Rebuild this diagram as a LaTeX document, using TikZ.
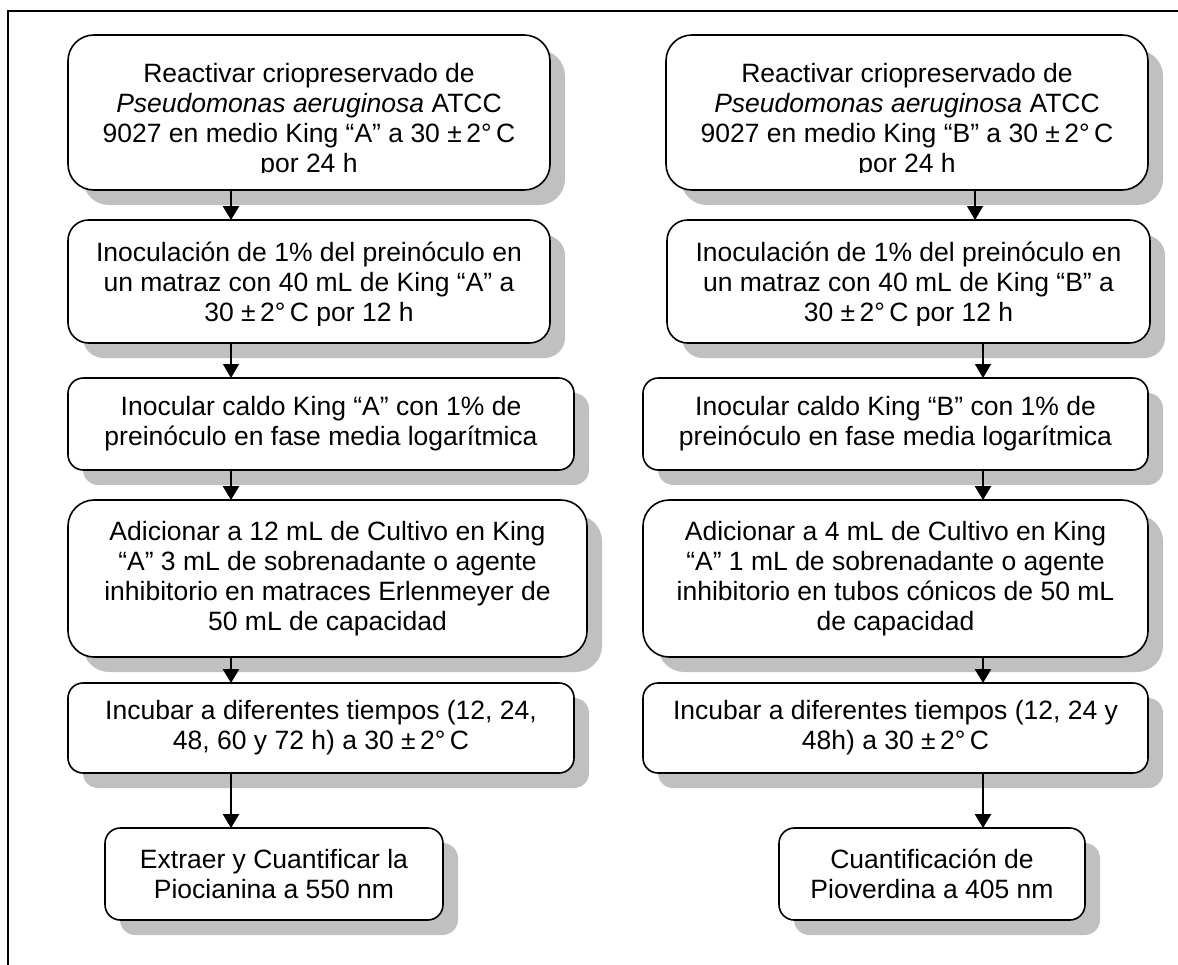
\documentclass[tikz,border=0pt]{standalone}
\usepackage{fontspec}
\setmainfont{Liberation Sans}
\usetikzlibrary{shadows,arrows.meta}
\definecolor{shadowgray}{RGB}{192,192,192}
\newcommand\boxfont{\fontsize{26.5}{30}\selectfont}
\newcommand\pmdeg{30 ±\,2°\,C}

\tikzset{
  flowbox/.style={draw, line width=1.6pt, fill=white, inner sep=0pt, outer sep=0pt,
    align=center, font=\boxfont,
    drop shadow={shadow xshift=15pt, shadow yshift=-15pt, fill=shadowgray, opacity=1, draw=none}},
  flowtext/.style={inner sep=0pt, outer sep=0pt, align=center, font=\boxfont, anchor=north},
  thickarrow/.style={line width=2.7pt, -{Triangle[width=16pt,length=14pt]}},
  thinarrow/.style={line width=1.4pt, -{Triangle[width=16pt,length=14pt]}},
  frameline/.style={line width=1.3pt},
}

% rounded box from its corners (x1,y1) to (x2,y2), y running downwards
\newcommand\placebox[6]{%
  \pgfmathsetmacro\bw{#4-#2}\pgfmathsetmacro\bh{#5-#3}%
  \pgfmathsetmacro\bx{(#2+#4)/2}\pgfmathsetmacro\by{(#3+#5)/2}%
  \pgfmathsetmacro\br{\bh/6}%
  \node[flowbox, minimum width=\bw pt, minimum height=\bh pt, rounded corners=\br pt] (#1) at (\bx,\by) {#6};%
}
% text that runs past the lower margin of its box is cut off
\newcommand\cliptext[7]{%
  \begin{scope}
    \clip (#2,#3) rectangle (#4,#5);
    \pgfmathsetmacro\bx{(#2+#4)/2}%
    \node[flowtext] (#1) at (\bx,#6) {#7};
  \end{scope}%
}

\begin{document}
\begin{tikzpicture}[x=1pt,y=-1pt]
  \clip (0,0) rectangle (1178,964);
  \fill[white] (0,0) rectangle (1178,964);

  % outer frame
  \draw[frameline] (8,980) -- (8,11) -- (1190,11);

  % axes of the connectors
  \coordinate (axL) at (231,0);
  \coordinate (axRa) at (975,0);
  \coordinate (axRb) at (983,0);

  % ---- King A column ----
  \placebox{L1}{68}{35}{550}{190}{}
  \placebox{L2}{68}{220}{550}{343}{}
  \placebox{L3}{68}{378}{574}{470}{Inocular caldo King “A” con 1\% de\\preinóculo en fase media logarítmica}
  \placebox{L4}{68}{500}{587}{657}{Adicionar a 12 mL de Cultivo en King\\“A” 3 mL de sobrenadante o agente\\inhibitorio en matraces Erlenmeyer de\\50 mL de capacidad}
  \placebox{L5}{68}{683}{574}{773}{Incubar a diferentes tiempos (12, 24,\\48, 60 y 72 h) a \pmdeg}
  \placebox{L6}{105}{828}{443}{920}{Extraer y Cuantificar la\\Piocianina a 550 nm}

  \cliptext{L1t}{68}{35}{550}{172.5}{63}{Reactivar criopreservado de\\\textit{Pseudomonas aeruginosa} ATCC\\9027 en medio King “A” a \pmdeg\\por 24 h}
  \cliptext{L2t}{68}{220}{550}{325}{242}{Inoculación de 1\% del preinóculo en\\un matraz con 40 mL de King “A” a\\\pmdeg{} por 12 h}

  % ---- King B column ----
  \placebox{R1}{666}{35}{1148}{190}{}
  \placebox{R2}{667}{220}{1150}{343}{}
  \placebox{R3}{643}{378}{1148}{470}{Inocular caldo King “B” con 1\% de\\preinóculo en fase media logarítmica}
  \placebox{R4}{643}{500}{1148}{657}{Adicionar a 4 mL de Cultivo en King\\“A” 1 mL de sobrenadante o agente\\inhibitorio en tubos cónicos de 50 mL\\de capacidad}
  \placebox{R5}{643}{683}{1148}{773}{Incubar a diferentes tiempos (12, 24 y\\48h) a \pmdeg}
  \placebox{R6}{779}{828}{1085}{920}{Cuantificación de\\Pioverdina a 405 nm}

  \cliptext{R1t}{666}{35}{1148}{172.5}{63}{Reactivar criopreservado de\\\textit{Pseudomonas aeruginosa} ATCC\\9027 en medio King “B” a \pmdeg\\por 24 h}
  \cliptext{R2t}{667}{220}{1150}{325}{242}{Inoculación de 1\% del preinóculo en\\un matraz con 40 mL de King “B” a\\\pmdeg{} por 12 h}

  % ---- connectors ----
  \draw[thickarrow] (axL |- L1.south) -- (axL |- L2.north);
  \draw[thinarrow]  (axL |- L2.south) -- (axL |- L3.north);
  \draw[thickarrow] (axL |- L3.south) -- (axL |- L4.north);
  \draw[thickarrow] (axL |- L4.south) -- (axL |- L5.north);
  \draw[thickarrow] (axL |- L5.south) -- (axL |- L6.north);

  \draw[thinarrow]  (axRa |- R1.south) -- (axRa |- R2.north);
  \draw[thinarrow]  (axRb |- R2.south) -- (axRb |- R3.north);
  \draw[thickarrow] (axRb |- R3.south) -- (axRb |- R4.north);
  \draw[thickarrow] (axRb |- R4.south) -- (axRb |- R5.north);
  \draw[thickarrow] (axRb |- R5.south) -- (axRb |- R6.north);
\end{tikzpicture}
\end{document}
